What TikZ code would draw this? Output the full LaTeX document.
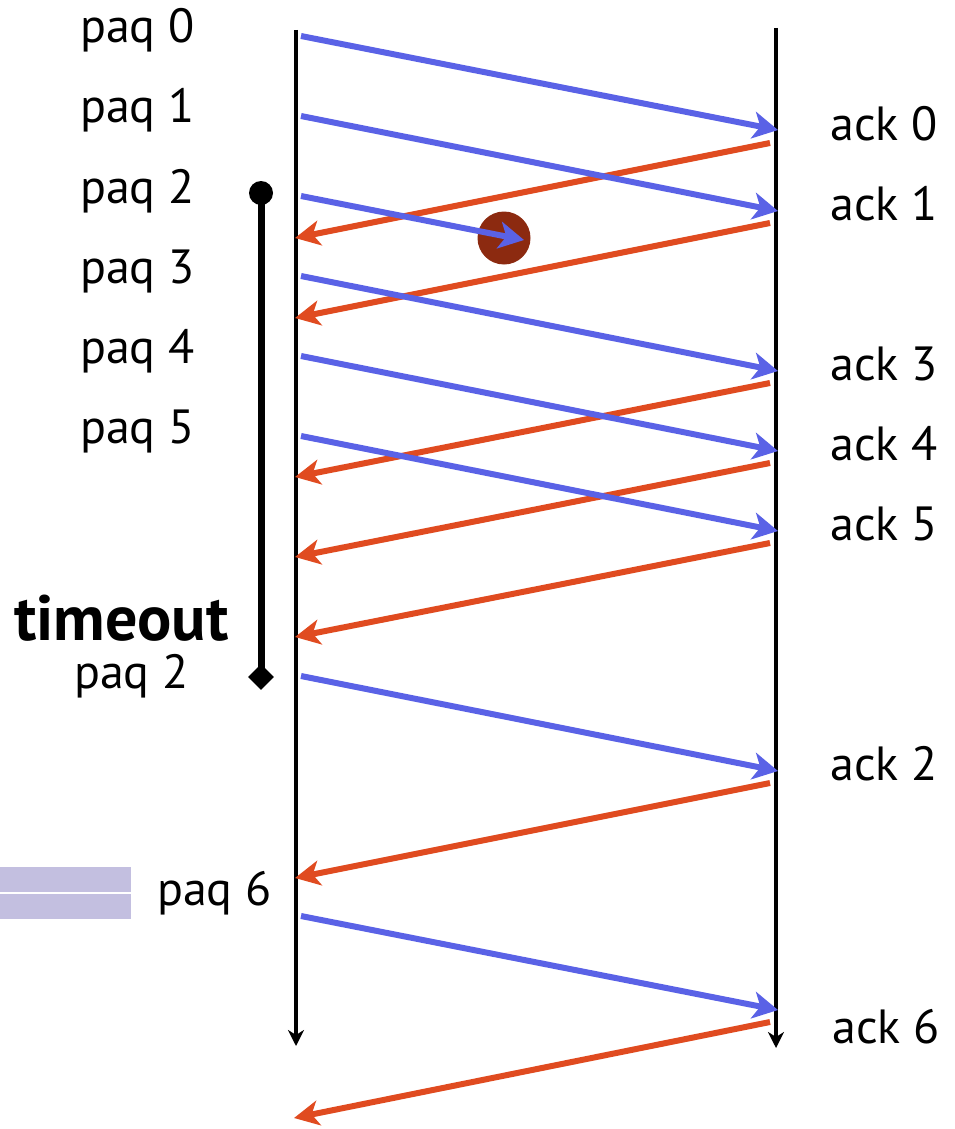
\documentclass[tikz,border=0pt]{standalone}
\usepackage{fontspec}
\setmainfont{PT Sans}
\usetikzlibrary{arrows.meta,shapes.geometric}
\definecolor{pktblue}{HTML}{5A62E6}
\definecolor{ackred}{HTML}{E04B20}
\definecolor{lossred}{HTML}{8C2A10}
\definecolor{lav}{HTML}{C3BFE0}
\tikzset{
  lbl/.style={font=\fontsize{48}{52}\selectfont, inner sep=0pt, anchor=base west},
  pkt/.style={draw=pktblue, line width=6pt, -{Stealth[length=25pt,width=27pt,inset=7pt]}},
  ack/.style={draw=ackred, line width=6pt, -{Stealth[length=25pt,width=25pt,inset=7pt]}},
  tline/.style={draw=black, line width=4pt, -{Stealth[length=16pt,width=16pt,inset=5pt]}},
}
\begin{document}
\begin{tikzpicture}[x=1pt,y=-1pt]
\useasboundingbox (0,0) rectangle (954,1129);
% time lines
\coordinate (Ltop) at (296,30);
\coordinate (Lbot) at (296,1046);
\coordinate (Rtop) at (776,28);
\coordinate (Rbot) at (776,1048);
\draw[tline] (Ltop) -- (Lbot);
\draw[tline] (Rtop) -- (Rbot);
% background lavender bars
\fill[lav] (0,867) rectangle (131,892);
\fill[lav] (0,894) rectangle (131,919);
% timer
\coordinate (Tstart) at (261,193);
\coordinate (Tend) at (261,677);
\draw[line width=7pt] (Tstart) -- (Tend);
\fill (Tstart) circle (12);
\node[diamond, fill=black, inner sep=0pt, minimum width=26pt, minimum height=26pt] (Tdia) at (Tend) {};
% lost packet
\fill[lossred] (504,238) circle (26.5);
% sender / receiver points
\coordinate (s0) at (301,36);   \coordinate (r0) at (778,130);
\coordinate (s1) at (301,116);  \coordinate (r1) at (778,211);
\coordinate (s2) at (301,196);  \coordinate (lost) at (524,240);
\coordinate (s3) at (301,276);  \coordinate (r3) at (778,371);
\coordinate (s4) at (301,356);  \coordinate (r4) at (778,451);
\coordinate (s5) at (301,436);  \coordinate (r5) at (778,531);
\coordinate (s2b) at (301,676); \coordinate (r2) at (778,771);
\coordinate (s6) at (301,916);  \coordinate (r6) at (778,1010);
% ack points
\coordinate (a0) at (770,143);  \coordinate (b0) at (295,238);
\coordinate (a1) at (770,223);  \coordinate (b1) at (295,318);
\coordinate (a3) at (770,383);  \coordinate (b3) at (295,477);
\coordinate (a4) at (770,463);  \coordinate (b4) at (295,557);
\coordinate (a5) at (770,543);  \coordinate (b5) at (295,637);
\coordinate (a2) at (770,783);  \coordinate (b2) at (295,878);
\coordinate (a6) at (770,1022); \coordinate (b6) at (294,1118);
% acks
\draw[ack] (a0) -- (b0);
\draw[ack] (a1) -- (b1);
\draw[ack] (a3) -- (b3);
\draw[ack] (a4) -- (b4);
\draw[ack] (a5) -- (b5);
\draw[ack] (a2) -- (b2);
\draw[ack] (a6) -- (b6);
% packets
\draw[pkt] (s0) -- (r0);
\draw[pkt] (s1) -- (r1);
\draw[pkt] (s2) -- (lost);
\draw[pkt] (s3) -- (r3);
\draw[pkt] (s4) -- (r4);
\draw[pkt] (s5) -- (r5);
\draw[pkt] (s2b) -- (r2);
\draw[pkt] (s6) -- (r6);
% labels
\node[lbl] (p0) at (80,43) {paq 0};
\node[lbl] (p1) at (80,123) {paq 1};
\node[lbl] (p2) at (80,203) {paq 2};
\node[lbl] (p3) at (80,283) {paq 3};
\node[lbl] (p4) at (80,363) {paq 4};
\node[lbl] (p5) at (80,443) {paq 5};
\node[lbl, font=\fontsize{64}{68}\selectfont\bfseries] (to) at (14,640) {timeout};
\node[lbl] (p2b) at (74,688) {paq 2};
\node[lbl] (p6) at (157,905) {paq 6};
\node[lbl] (k0) at (830,140) {ack 0};
\node[lbl] (k1) at (830,220) {ack 1};
\node[lbl] (k3) at (830,380) {ack 3};
\node[lbl] (k4) at (830,460) {ack 4};
\node[lbl] (k5) at (830,540) {ack 5};
\node[lbl] (k2) at (830,780) {ack 2};
\node[lbl] (k6) at (832,1043) {ack 6};
\end{tikzpicture}
\end{document}
